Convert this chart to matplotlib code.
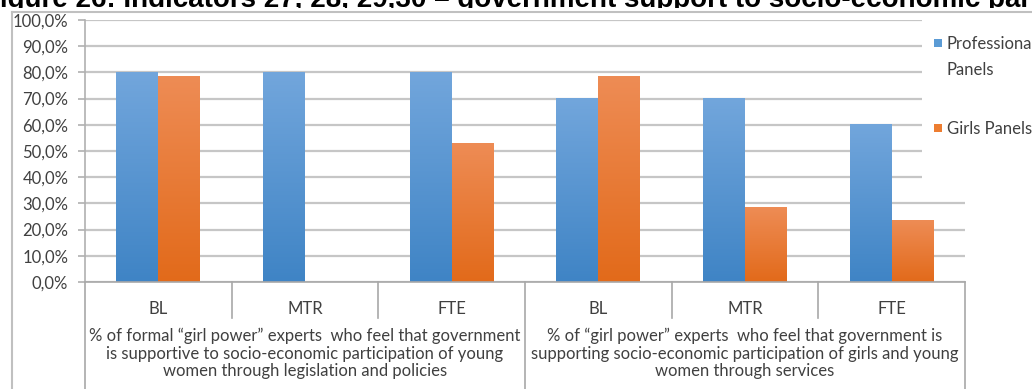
import matplotlib
matplotlib.use("Agg")
import matplotlib.pyplot as plt
import matplotlib.transforms as mtransforms
from matplotlib.colors import LinearSegmentedColormap
from matplotlib.patches import Rectangle
import numpy as np

# Data
sub_labels = ["BL", "MTR", "FTE", "BL", "MTR", "FTE"]
group_labels = [
    "% of formal \u201cgirl power\u201d experts  who feel that government\n"
    "is supportive to socio-economic participation of young\n"
    "women through legislation and policies",
    "% of \u201cgirl power\u201d experts  who feel that government is\n"
    "supporting socio-economic participation of girls and young\n"
    "women through services",
]
series_names = ["Professional\nPanels", "Girls Panels"]
professional = [80.0, 80.0, 80.0, 70.0, 70.0, 60.0]
girls = [78.6, 0.0, 52.9, 78.6, 28.6, 23.5]
title = "Figure 26: Indicators 27, 28, 29,30 \u2013 government support to socio-economic participation"

W, H = 1032, 389
FS = 12
TXT = "#404040"
plt.rcParams['font.family'] = ['Lato', 'DejaVu Sans']
fig = plt.figure(figsize=(W / 100, H / 100), dpi=100)

# plot area in pixels: x 85..965, y 20..282
ax = fig.add_axes([85 / W, 1 - 282 / H, 880 / W, 262 / H])

blue_cm = LinearSegmentedColormap.from_list("b", ["#3f84c5", "#72a6dc"])
orange_cm = LinearSegmentedColormap.from_list("o", ["#e26a1a", "#ee8c55"])

x = np.arange(len(sub_labels))
bw = 0.286
b1 = ax.bar(x - bw / 2, professional, bw, color="#5b9bd5", zorder=2)
b2 = ax.bar(x + bw / 2, girls, bw, color="#ed7d31", zorder=2)

# vertical gradient fill like the Excel original
grad = np.linspace(0, 1, 256).reshape(-1, 1)
for bars, cm in ((b1, blue_cm), (b2, orange_cm)):
    for bar in bars:
        x0, y0 = bar.get_xy()
        w, h = bar.get_width(), bar.get_height()
        if h <= 0:
            continue
        ax.imshow(grad, extent=[x0, x0 + w, y0, y0 + h], origin="lower",
                  aspect="auto", cmap=cm, zorder=2.5)

ax.set_xlim(-0.5, len(sub_labels) - 0.5)
ax.set_ylim(0, 100)
ax.set_yticks(np.arange(0, 101, 10))
ax.set_yticklabels([f"{v:.1f}%".replace(".", ",") for v in np.arange(0, 101, 10)],
                   fontsize=FS, color=TXT)
ax.set_xticks([])
ax.tick_params(axis="y", length=5, width=1.2, color="#b0b0b0", pad=7)
ax.yaxis.grid(True, color="#c6c6c6", lw=1.6)
ax.set_axisbelow(True)
for s in ("top", "right"):
    ax.spines[s].set_visible(False)
ax.spines["left"].set_color("#b0b0b0")
ax.spines["left"].set_linewidth(1.2)
ax.spines["bottom"].set_color("#a8a8a8")
ax.spines["bottom"].set_linewidth(1.2)

# multi-level category axis
trans = mtransforms.blended_transform_factory(ax.transData, ax.transAxes)
px = 1 / 262
for i in range(len(sub_labels) + 1):
    xb = i - 0.5
    bottom = -0.5 if i % 3 == 0 else -36 * px
    ax.plot([xb, xb], [0, bottom], transform=trans, color="#a8a8a8", lw=1.2, clip_on=False)
for i, lab in enumerate(sub_labels):
    ax.text(i, -27 * px, lab, transform=trans, ha="center", va="center",
            fontsize=FS, color=TXT)
for g, lab in enumerate(group_labels):
    ax.text(g * 3 + 1, -46 * px, lab, transform=trans, ha="center", va="top",
            fontsize=FS, color=TXT, linespacing=1.12)

# chart area: white sheet over the title, with grey left and top border
fig.add_artist(Rectangle((0, 0), 1, 1 - 8 / H, transform=fig.transFigure,
                         facecolor="white", edgecolor="none", zorder=-1))
fig.add_artist(plt.Line2D([12 / W, 12 / W], [0, 1 - 12 / H], color="#c0c0c0", lw=1.5))
fig.add_artist(plt.Line2D([12 / W, 1], [1 - 12 / H, 1 - 12 / H], color="#c0c0c0", lw=1.5))

# legend box hides the grid behind it
fig.add_artist(Rectangle((922 / W, 1 - 190 / H), 110 / W, 175 / H,
                         transform=fig.transFigure, facecolor="white",
                         edgecolor="none", zorder=5))
legend_rows = [(43, "#5b9bd5"), (128, "#ed7d31")]
for (yc, col), name in zip(legend_rows, series_names):
    fig.add_artist(Rectangle((934 / W, 1 - (yc + 4) / H), 8 / W, 8 / H,
                             transform=fig.transFigure, facecolor=col,
                             edgecolor="none", zorder=6))
    fig.text(947 / W, 1 - (yc - 7) / H, name, fontsize=FS, color=TXT,
             ha="left", va="top", linespacing=1.75, zorder=6)

# title, mostly cut off at the top of the image
fig.text(-17 / W, 1 - 7 / H, title, fontsize=20, fontweight="bold",
         family="Liberation Sans", ha="left", va="baseline", zorder=-2)

fig.savefig("out.png", dpi=100)
